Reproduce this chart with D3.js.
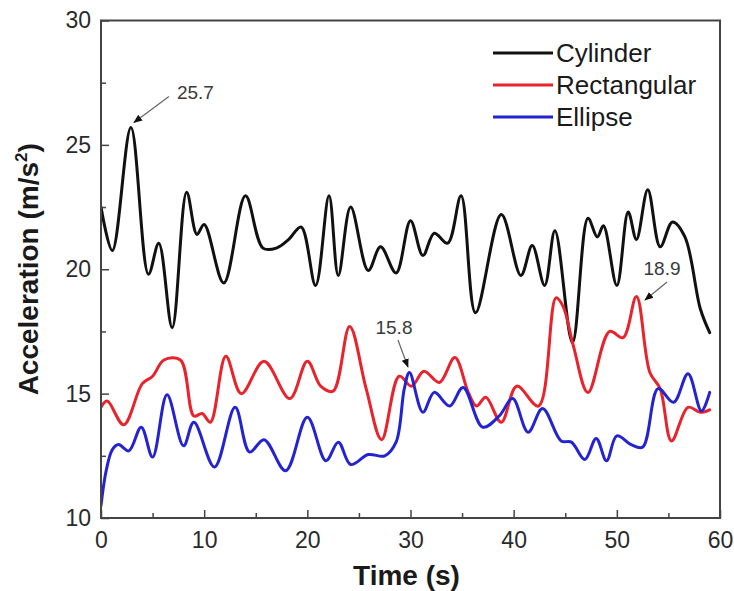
<!DOCTYPE html>
<html>
<head>
<meta charset="utf-8">
<script src="https://cdn.jsdelivr.net/npm/d3@7/dist/d3.min.js"></script>
<style>
  html, body { margin: 0; padding: 0; background: #fff; }
  svg { display: block; font-family: "Liberation Sans", Arial, Helvetica, sans-serif; }
</style>
</head>
<body>
<svg id="chart" width="734" height="591"></svg>
<script>
// ---------------- data ----------------
const seriesNames = ["Cylinder", "Rectangular", "Ellipse"];

const cylinder = [
  [0,22.5],[1.1,20.75],[2.9,25.7],[4.6,19.8],[5.6,21.05],[6.9,17.65],[8.3,23.1],[9.3,21.4],
  [10.0,21.8],[11.9,19.45],[14.0,22.95],[15.7,20.85],[17.0,20.85],[18.2,21.2],[19.4,21.7],
  [20.8,19.35],[22.1,22.95],[23.0,19.75],[24.2,22.5],[25.9,19.95],[27.1,20.9],[28.6,19.85],
  [30.0,21.95],[31.2,20.55],[32.3,21.45],[33.6,21.05],[34.9,22.95],[36.3,18.25],[38.8,22.2],
  [40.7,19.75],[41.8,20.95],[43.0,19.35],[44.0,21.55],[45.7,17.05],[47.2,22.05],[48.1,21.3],
  [48.7,21.75],[50.0,19.35],[51.1,22.3],[51.9,21.2],[53.0,23.2],[54.2,20.9],[55.4,21.9],
  [56.6,21.3],[58.1,18.4],[59.0,17.45]
];

const rectangular = [
  [0,14.45],[0.6,14.7],[2.2,13.75],[4.0,15.4],[5.0,15.7],[6.1,16.35],[7.7,16.35],[9.0,14.1],
  [9.8,14.2],[10.6,13.85],[12.1,16.5],[13.6,15.0],[15.8,16.3],[18.3,14.8],[20.0,16.3],
  [21.3,15.3],[22.5,15.1],[24.1,17.7],[25.7,15.2],[27.2,13.15],[28.9,15.7],[30.1,15.3],
  [31.3,15.9],[32.8,15.45],[34.3,16.45],[35.6,15.05],[36.4,14.5],[37.3,14.85],[38.8,13.85],
  [40.3,15.3],[42.4,14.5],[44.1,18.85],[44.8,18.5],[45.8,16.9],[47.2,15.05],[49.3,17.5],
  [50.6,17.25],[51.9,18.9],[53.2,15.85],[54.2,15.2],[55.3,13.1],[56.9,14.45],[58.1,14.25],
  [59.0,14.35]
];

const ellipse = [
  [0,10.5],[0.5,11.9],[1.1,12.75],[1.7,12.95],[2.7,12.7],[3.9,13.65],[5.0,12.45],[6.4,14.95],
  [8.0,12.9],[9.0,13.85],[11.0,12.05],[13.0,14.45],[14.4,12.65],[15.8,13.15],[17.9,11.9],
  [20.0,14.05],[21.8,12.3],[23.0,13.05],[24.2,12.15],[25.9,12.55],[27.5,12.5],[28.6,13.05],
  [29.4,15.2],[29.9,15.85],[31.2,14.25],[32.3,15.05],[33.8,14.5],[35.1,15.25],[37.0,13.65],
  [38.6,14.1],[39.9,14.8],[41.4,13.45],[42.8,14.4],[44.6,13.1],[45.6,13.05],[46.9,12.35],
  [48.0,13.2],[49.0,12.3],[50.0,13.3],[51.4,12.95],[52.5,12.85],[54.0,15.2],[55.5,14.65],
  [56.9,15.8],[58.2,14.3],[59.0,15.05]
];

const xTickValues = [0, 10, 20, 30, 40, 50, 60];
const xMinorTicks = [5, 15, 25, 35, 45, 55];
const yTickValues = [10, 15, 20, 25, 30];
const yMinorTicks = [12.5, 17.5, 22.5, 27.5];

const annotations = [
  { label: "25.7", t: 2.9,  v: 25.7 },
  { label: "15.8", t: 29.9, v: 15.85 },
  { label: "18.9", t: 51.9, v: 18.9 }
];

const xTitle = "Time (s)";

// ---------------- layout ----------------
const colors = ["#111111", "#e8232b", "#2323d2"];
const allSeries = [cylinder, rectangular, ellipse];

const pLeft = 101, pRight = 720, pTop = 20.5, pBottom = 518;
const svg = d3.select("#chart");

const x = d3.scaleLinear().domain([0, 60]).range([pLeft, pRight]);
const y = d3.scaleLinear().domain([10, 30]).range([pBottom, pTop]);

const textColor = "#2a2a2a";
const axisColor = "#444";

const line = d3.line()
  .x(d => x(d[0]))
  .y(d => y(d[1]))
  .curve(d3.curveCatmullRom.alpha(0.5));

const defs = svg.append("defs");
defs.append("clipPath").attr("id", "clip")
  .append("rect").attr("x", pLeft).attr("y", pTop).attr("width", pRight - pLeft).attr("height", pBottom - pTop);

const plot = svg.append("g").attr("clip-path", "url(#clip)");
allSeries.forEach((s, i) => {
  plot.append("path")
    .datum(s)
    .attr("d", line)
    .attr("fill", "none")
    .attr("stroke", colors[i])
    .attr("stroke-width", 3)
    .attr("stroke-linejoin", "round")
    .attr("stroke-linecap", "round");
});

// axes
const xAxis = d3.axisBottom(x).tickValues(xTickValues).tickSizeInner(-8).tickSizeOuter(0).tickPadding(14);
const xAxisMinor = d3.axisBottom(x).tickValues(xMinorTicks).tickSizeInner(-5).tickSizeOuter(0).tickFormat("");
const yAxis = d3.axisLeft(y).tickValues(yTickValues).tickSizeInner(-8).tickSizeOuter(0).tickPadding(10);
const yAxisMinor = d3.axisLeft(y).tickValues(yMinorTicks).tickSizeInner(-5).tickSizeOuter(0).tickFormat("");

function styleAxis(g) {
  g.select(".domain").remove();
  g.selectAll(".tick line").attr("stroke", axisColor).attr("stroke-width", 1.5);
  g.selectAll(".tick text").attr("fill", textColor).attr("font-size", 23);
}

svg.append("g").attr("transform", `translate(0,${pBottom})`).call(xAxis).call(styleAxis);
svg.append("g").attr("transform", `translate(0,${pBottom})`).call(xAxisMinor).call(styleAxis);
svg.append("g").attr("transform", `translate(${pLeft},0)`).call(yAxis).call(styleAxis);
svg.append("g").attr("transform", `translate(${pLeft},0)`).call(yAxisMinor).call(styleAxis);

// frame
svg.append("rect")
  .attr("x", pLeft).attr("y", pTop)
  .attr("width", pRight - pLeft).attr("height", pBottom - pTop)
  .attr("fill", "none").attr("stroke", axisColor).attr("stroke-width", 2);

// axis titles
svg.append("text")
  .attr("x", (pLeft + pRight) / 2 - 4).attr("y", 585)
  .attr("text-anchor", "middle")
  .attr("font-size", 28).attr("font-weight", "bold").attr("fill", "#1a1a1a")
  .text(xTitle);

const yt = svg.append("text")
  .attr("transform", `translate(38,${(pTop + pBottom) / 2}) rotate(-90)`)
  .attr("text-anchor", "middle")
  .attr("font-size", 28).attr("font-weight", "bold").attr("fill", "#1a1a1a");
yt.append("tspan").text("Acceleration (m/s");
yt.append("tspan").attr("font-size", 17).attr("dy", -11).text("2");
yt.append("tspan").attr("dy", 11).text(")");

// legend
const legend = svg.append("g");
seriesNames.forEach((name, i) => {
  const ly = 53 + i * 32;
  legend.append("line")
    .attr("x1", 493).attr("x2", 553).attr("y1", ly).attr("y2", ly)
    .attr("stroke", colors[i]).attr("stroke-width", 3);
  legend.append("text")
    .attr("x", 556).attr("y", ly).attr("dy", "0.36em")
    .attr("font-size", 26).attr("fill", "#1a1a1a")
    .text(name);
});

// annotations
defs.append("marker")
  .attr("id", "arrow")
  .attr("viewBox", "0 0 10 10")
  .attr("refX", 9).attr("refY", 5)
  .attr("markerWidth", 9).attr("markerHeight", 9)
  .attr("markerUnits", "userSpaceOnUse")
  .attr("orient", "auto")
  .append("path").attr("d", "M0,1 L10,5 L0,9 Z").attr("fill", "#111");

const annStyle = [
  { head: [3, -5],  tail: [38, -31],  text: [46, -35],   anchor: "start" },
  { head: [-1.5, -5.5], tail: [-11.5, -32.5], text: [-15.5, -45.5], anchor: "middle" },
  { head: [8.6, 3.4], tail: [30.6, -14.6], text: [25.6, -28.6], anchor: "middle" }
];

annotations.forEach((a, i) => {
  const px = x(a.t), py = y(a.v), s = annStyle[i];
  svg.append("line")
    .attr("x1", px + s.tail[0]).attr("y1", py + s.tail[1])
    .attr("x2", px + s.head[0]).attr("y2", py + s.head[1])
    .attr("stroke", "#666").attr("stroke-width", 1.2)
    .attr("marker-end", "url(#arrow)");
  svg.append("text")
    .attr("x", px + s.text[0]).attr("y", py + s.text[1]).attr("dy", "0.36em")
    .attr("text-anchor", s.anchor)
    .attr("font-size", 19).attr("fill", "#3a3a3a")
    .text(a.label);
});
</script>
</body>
</html>
